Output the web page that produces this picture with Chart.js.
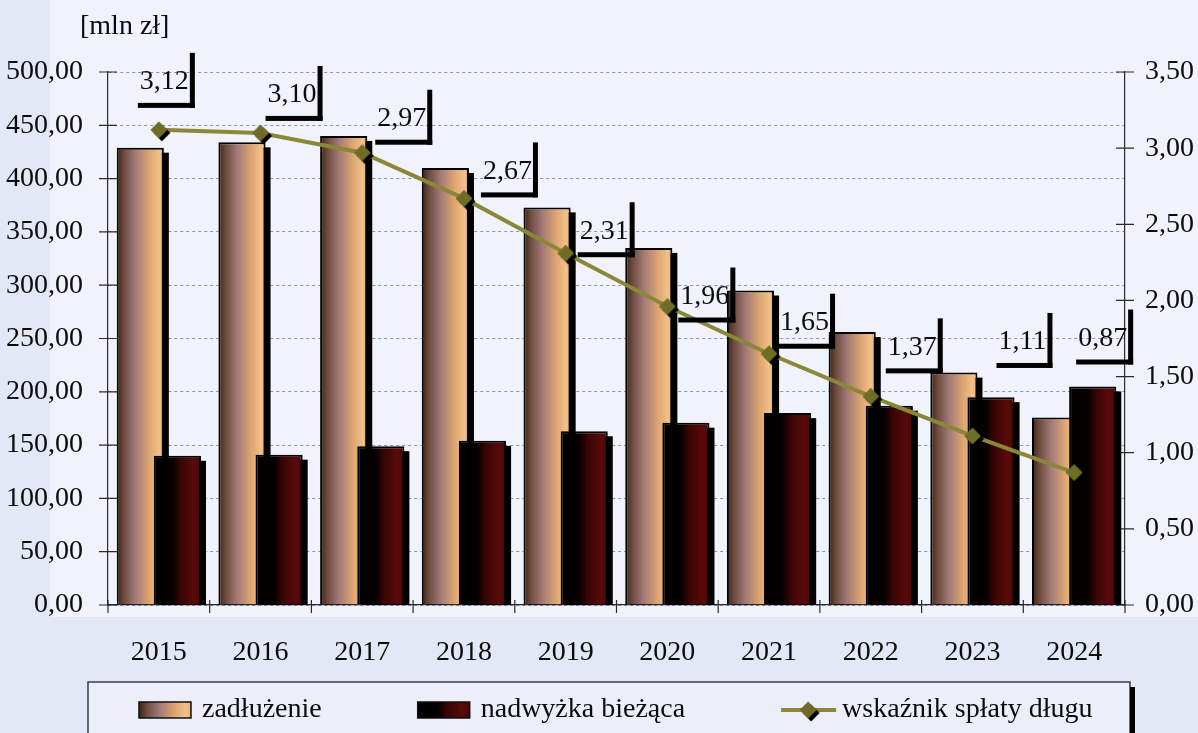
<!DOCTYPE html>
<html lang="pl">
<head>
<meta charset="utf-8">
<title>Zadłużenie, nadwyżka bieżąca i wskaźnik spłaty długu 2015-2024</title>
<script src="https://cdn.jsdelivr.net/npm/chart.js@4.4.1/dist/chart.umd.min.js"></script>
<style>
    html, body { margin: 0; padding: 0; background: #e7e9f6; }
    canvas { display: block; }
</style>
</head>
<body>
<canvas id="debtChart" width="1198" height="733"></canvas>
<script>
// Data
const years = ['2015', '2016', '2017', '2018', '2019', '2020', '2021', '2022', '2023', '2024'];
const zadluzenie = [429, 434, 440, 410, 373, 335, 295, 256, 218, 176];
const nadwyzka = [140, 141, 149, 154, 163, 171, 180, 187, 195, 205];
const wskaznik = [3.12, 3.10, 2.97, 2.67, 2.31, 1.96, 1.65, 1.37, 1.11, 0.87];
const leftTicksMax = 500;
const rightTicksMax = 3.5;

// Where each value box sits, relative to its point (right edge, bottom edge) in px
const labelShift = [[36, -22], [62, -12], [70, -8], [74, -1], [69, 4], [68, 16], [66, -5], [72, -23], [80, -68], [59, -108]];

const FONT = '"Liberation Serif", "Times New Roman", serif';
const FONT_SIZE = 28;
const INK = '#0c0c0c';
const LINE_COLOR = '#8a8838';
const MARKER_COLOR = '#6f6d25';

const debtStops = [[0, '#3a2414'], [0.15, '#6d4a3e'], [0.4, '#a27a78'], [0.7, '#dfa670'], [0.9, '#f2c08a'], [1, '#e6ad7c']];
const surplusStops = [[0, '#000000'], [0.4, '#060000'], [0.55, '#360404'], [0.85, '#5a0a0a'], [1, '#480707']];

const fmt = v => v.toFixed(2).replace('.', ',');

function gradientBetween(ctx, x1, x2, stops) {
    const g = ctx.createLinearGradient(x1, 0, x2, 0);
    stops.forEach(([p, c]) => g.addColorStop(p, c));
    return g;
}

// Diamond marker with a hard black drop shadow, used as point image
function diamondImage() {
    const c = document.createElement('canvas');
    c.width = 28;
    c.height = 28;
    const g = c.getContext('2d');
    const diamond = (cx, cy, r, color) => {
        g.fillStyle = color;
        g.beginPath();
        g.moveTo(cx, cy - r);
        g.lineTo(cx + r, cy);
        g.lineTo(cx, cy + r);
        g.lineTo(cx - r, cy);
        g.closePath();
        g.fill();
    };
    diamond(17, 17, 8.5, '#000');
    diamond(14, 14, 8.5, MARKER_COLOR);
    return c;
}
const diamond = diamondImage();

Chart.defaults.font.family = FONT;
Chart.defaults.font.size = FONT_SIZE;
Chart.defaults.color = INK;

// Page background: whitish plot zone, lavender strip round the bottom
const backdrop = {
    id: 'backdrop',
    beforeDraw(chart) {
        const { ctx, width, height, chartArea: a } = chart;
        ctx.save();
        ctx.fillStyle = '#e4e7f6';
        ctx.fillRect(0, 0, width, height);
        ctx.fillStyle = '#f0f3fb';
        ctx.fillRect(50, 0, width - 50, a.bottom + 12);
        ctx.restore();
    }
};

// Paint bars with horizontal gradients and a hard black drop shadow
function drawShadowedBars(chart, index) {
    const ctx = chart.ctx;
    const a = chart.chartArea;
    const meta = chart.getDatasetMeta(index);
    const stops = chart.data.datasets[index].stops;
    ctx.save();
    ctx.beginPath();
    ctx.rect(a.left, 0, a.right - a.left + 8, a.bottom);
    ctx.clip();
    ctx.fillStyle = '#000';
    meta.data.forEach(bar => {
        bar.options.backgroundColor = gradientBetween(ctx, bar.x - bar.width / 2, bar.x + bar.width / 2, stops);
        ctx.fillRect(bar.x - bar.width / 2 + 5, bar.y + 5, bar.width, bar.base - bar.y);
    });
    meta.controller.draw();
    ctx.restore();
}

const barLayers = {
    id: 'barLayers',
    beforeDatasetDraw(chart, args) {
        const ds = chart.data.datasets[args.index];
        if (!ds.stops) return;
        // Chart.js would put zadłużenie in front; in the original nadwyżka overlaps it
        if (args.index === 2) {
            drawShadowedBars(chart, 1);
            drawShadowedBars(chart, 2);
        }
        return false;
    }
};

// Tick marks that cross the axis lines
const crossTicks = {
    id: 'crossTicks',
    beforeDatasetsDraw(chart) {
        const { ctx, chartArea: a, scales: { x, y, y1 } } = chart;
        ctx.save();
        ctx.strokeStyle = '#2b2b2b';
        ctx.lineWidth = 1.2;
        ctx.beginPath();
        y.ticks.forEach((t, i) => {
            const py = y.getPixelForTick(i);
            ctx.moveTo(a.left - 9, py);
            ctx.lineTo(a.left + 9, py);
        });
        y1.ticks.forEach((t, i) => {
            const py = y1.getPixelForTick(i);
            ctx.moveTo(a.right - 9, py);
            ctx.lineTo(a.right + 9, py);
        });
        for (let i = 0; i <= years.length; i++) {
            const px = x.getPixelForValue(i - 0.5);
            ctx.moveTo(px, a.bottom - 5);
            ctx.lineTo(px, a.bottom + 8);
        }
        ctx.stroke();
        ctx.restore();
    }
};

// Value boxes for the ratio line: text with a thick L-shaped shadow
const ratioLabels = {
    id: 'ratioLabels',
    afterDatasetsDraw(chart) {
        const ctx = chart.ctx;
        const meta = chart.getDatasetMeta(0);
        ctx.save();
        ctx.font = FONT_SIZE + 'px ' + FONT;
        ctx.textBaseline = 'middle';
        ctx.textAlign = 'right';
        meta.data.forEach((pt, i) => {
            const [dx, dy] = labelShift[i];
            const right = pt.x + dx;
            const bottom = pt.y + dy;
            const text = fmt(chart.data.datasets[0].data[i]);
            const w = ctx.measureText(text).width;
            ctx.fillStyle = INK;
            ctx.fillText(text, right - 6, bottom - 26);
            ctx.fillStyle = '#000';
            ctx.fillRect(right - 5, bottom - 55, 5, 55);
            ctx.fillRect(right - w - 8, bottom - 5, w + 8, 5);
        });
        ctx.restore();
    }
};

// Framed legend under the axis, cut by the bottom edge like the scan
const legendBox = {
    id: 'legendBox',
    afterDraw(chart) {
        const { ctx, chartArea: a, height } = chart;
        const left = a.left - 20;
        const right = a.right + 5;
        const top = a.bottom + 77;
        const midY = top + 28;
        ctx.save();
        ctx.fillStyle = '#eceffa';
        ctx.fillRect(left, top, right - left, height - top);
        ctx.strokeStyle = '#3a3a4a';
        ctx.lineWidth = 1.5;
        ctx.beginPath();
        ctx.moveTo(left, height);
        ctx.lineTo(left, top);
        ctx.lineTo(right, top);
        ctx.lineTo(right, height);
        ctx.stroke();
        ctx.fillStyle = '#000';
        ctx.fillRect(right, top + 5, 5, height - top);

        ctx.font = FONT_SIZE + 'px ' + FONT;
        ctx.textBaseline = 'middle';
        ctx.textAlign = 'left';
        let x = left + 51;
        chart.data.datasets.slice().sort((p, q) => p.legendPos - q.legendPos).forEach(ds => {
            if (ds.stops) {
                ctx.fillStyle = gradientBetween(ctx, x, x + 52, ds.stops);
                ctx.fillRect(x, midY - 8, 52, 16);
                ctx.strokeStyle = '#111';
                ctx.lineWidth = 1.5;
                ctx.strokeRect(x, midY - 8, 52, 16);
            } else {
                ctx.strokeStyle = LINE_COLOR;
                ctx.lineWidth = 4;
                ctx.beginPath();
                ctx.moveTo(x, midY);
                ctx.lineTo(x + 55, midY);
                ctx.stroke();
                ctx.drawImage(diamond, x + 27 - 14, midY - 14);
            }
            x += ds.stops ? 63 : 61;
            ctx.fillStyle = INK;
            ctx.fillText(ds.label, x, midY);
            x += ctx.measureText(ds.label).width + 96;
        });

        // unit caption above the left axis
        ctx.textAlign = 'left';
        ctx.fillText('[mln zł]', 80, 27);
        ctx.restore();
    }
};

const ctx = document.getElementById('debtChart').getContext('2d');
const debtChart = new Chart(ctx, {
    type: 'bar',
    data: {
        labels: years,
        datasets: [
            {
                type: 'line',
                label: 'wskaźnik spłaty długu',
                legendPos: 3,
                data: wskaznik,
                yAxisID: 'y1',
                borderColor: LINE_COLOR,
                borderWidth: 4,
                pointStyle: diamond,
                pointRadius: 9,
                tension: 0
            },
            {
                label: 'zadłużenie',
                legendPos: 1,
                data: zadluzenie,
                yAxisID: 'y',
                stops: debtStops,
                backgroundColor: () => '#c08a68',
                borderColor: '#000',
                borderWidth: 2,
                categoryPercentage: 0.73,
                barPercentage: 1.27
            },
            {
                label: 'nadwyżka bieżąca',
                legendPos: 2,
                data: nadwyzka,
                yAxisID: 'y',
                stops: surplusStops,
                backgroundColor: () => '#2a0202',
                borderColor: '#000',
                borderWidth: 2,
                categoryPercentage: 0.73,
                barPercentage: 1.27
            }
        ]
    },
    options: {
        responsive: false,
        animation: false,
        events: [],
        layout: { padding: { top: 72, left: 0, right: 0, bottom: 0 } },
        plugins: {
            legend: { display: false },
            tooltip: { enabled: false }
        },
        scales: {
            x: {
                grid: { display: false, drawTicks: false },
                border: { display: true, color: '#2b2b2b', width: 1.2 },
                ticks: { padding: 31, maxRotation: 0, autoSkip: false },
                afterFit(scale) { scale.height = 128; }
            },
            y: {
                position: 'left',
                min: 0,
                max: leftTicksMax,
                grid: { color: '#8793bd', lineWidth: 1, drawTicks: false },
                border: { display: true, color: '#2b2b2b', width: 1.2, dash: [3, 3] },
                ticks: { stepSize: 50, padding: 25, callback: v => fmt(v) },
                afterFit(scale) { scale.width = 108; }
            },
            y1: {
                position: 'right',
                min: 0,
                max: rightTicksMax,
                grid: { display: false, drawTicks: false },
                border: { display: true, color: '#2b2b2b', width: 1.2 },
                ticks: { stepSize: 0.5, padding: 20, callback: v => fmt(v) },
                afterFit(scale) { scale.width = 73; }
            }
        }
    },
    plugins: [backdrop, crossTicks, barLayers, ratioLabels, legendBox]
});
</script>
</body>
</html>
